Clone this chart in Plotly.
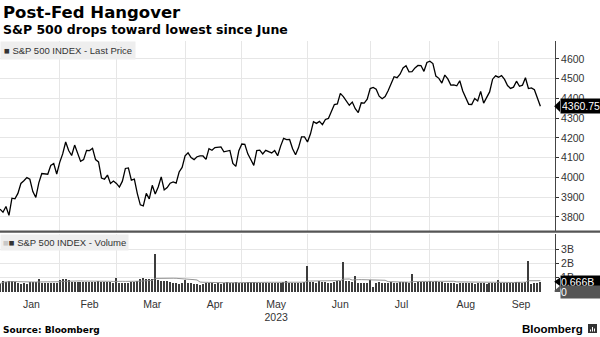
import pandas as pd
import plotly.graph_objects as go

# Trading sessions, Dec 30 2022 through Sep 21 2023 (NYSE holidays removed)
holidays = ["2023-01-02", "2023-01-16", "2023-02-20", "2023-04-07",
            "2023-05-29", "2023-06-19", "2023-07-04", "2023-09-04"]
trade_dates = pd.bdate_range("2022-12-30", "2023-09-21", freq="C", holidays=holidays)

# S&P 500 index, last price per session
close = [
    3839.50,
    # Jan
    3824.14, 3852.97, 3808.10, 3895.08, 3892.09, 3919.25, 3969.61, 3983.17, 3999.09, 3990.97,
    3928.86, 3898.85, 3972.61, 4019.81, 4016.95, 4016.22, 4060.43, 4070.56, 4017.77, 4076.60,
    # Feb
    4119.21, 4179.76, 4136.48, 4111.08, 4164.00, 4117.86, 4081.50, 4090.46, 4137.29, 4136.13,
    4147.60, 4090.41, 4079.09, 3997.34, 3991.05, 4012.32, 3970.04, 3982.24, 3970.15,
    # Mar
    3951.39, 3981.35, 4045.64, 4048.42, 3986.37, 3992.01, 3918.32, 3861.59, 3855.76, 3919.29,
    3891.93, 3960.28, 3916.64, 3951.57, 4002.87, 3936.97, 3948.72, 3970.99, 3977.53, 3971.27,
    4027.81, 4050.83, 4109.31,
    # Apr
    4124.51, 4100.60, 4090.38, 4105.02, 4109.11, 4108.94, 4091.95, 4146.22, 4137.64, 4151.32,
    4154.87, 4154.52, 4129.79, 4133.52, 4137.04, 4071.63, 4055.99, 4135.35, 4169.48,
    # May
    4167.87, 4119.58, 4090.75, 4061.22, 4136.25, 4138.12, 4119.17, 4137.64, 4130.62, 4124.08,
    4136.28, 4109.90, 4158.77, 4198.05, 4191.98, 4192.63, 4145.58, 4115.24, 4151.28, 4205.45,
    4205.52, 4179.83,
    # Jun
    4221.02, 4282.37, 4273.79, 4283.85, 4267.52, 4293.93, 4298.86, 4338.93, 4369.01, 4372.59,
    4425.84, 4409.59, 4388.71, 4365.69, 4381.89, 4348.33, 4328.82, 4378.41, 4376.86, 4396.44,
    4450.38,
    # Jul
    4455.59, 4446.82, 4411.59, 4398.95, 4409.53, 4439.26, 4472.16, 4510.04, 4505.42, 4522.79,
    4554.98, 4565.72, 4534.87, 4536.34, 4554.64, 4567.46, 4566.75, 4537.41, 4582.23, 4588.96,
    # Aug
    4576.73, 4513.39, 4501.89, 4478.03, 4518.44, 4499.38, 4467.71, 4468.83, 4464.05, 4489.72,
    4437.86, 4404.33, 4370.36, 4369.71, 4399.77, 4387.55, 4436.01, 4376.31, 4405.71, 4433.31,
    4497.63, 4514.87, 4507.66,
    # Sep
    4515.77, 4496.83, 4465.48, 4451.14, 4457.49, 4487.46, 4461.90, 4467.44, 4505.10, 4450.32,
    4453.53, 4443.95, 4402.20, 4360.75,
]

# Session volume, billions of shares
volume_bn = [
    0.52,
    # Jan
    0.72, 0.71, 0.73, 0.72, 0.70, 0.58, 0.56, 0.59, 0.57, 0.66,
    0.67, 0.65, 0.86, 0.63, 0.62, 0.64, 0.63, 0.61, 0.64, 0.84,
    # Feb
    0.88, 0.90, 0.82, 0.70, 0.71, 0.69, 0.70, 0.66, 0.68, 0.69,
    0.68, 0.70, 0.72, 0.69, 0.68, 0.67, 0.66, 0.64, 0.98,
    # Mar
    0.64, 0.63, 0.62, 0.60, 0.66, 0.65, 0.78, 0.92, 0.95, 0.90,
    0.93, 0.88, 2.70, 0.80, 0.75, 0.78, 0.72, 0.66, 0.62, 0.58,
    0.52, 0.60, 0.84,
    # Apr
    0.58, 0.60, 0.56, 0.52, 0.50, 0.56, 0.58, 0.60, 0.62, 0.56,
    0.58, 0.57, 0.60, 0.66, 0.62, 0.64, 0.66, 0.60, 0.64,
    # May
    0.62, 0.66, 0.68, 0.66, 0.60, 0.58, 0.62, 0.60, 0.62, 0.58,
    0.60, 0.62, 0.64, 0.66, 0.72, 0.64, 0.62, 0.64, 0.60, 0.62,
    0.66, 1.82,
    # Jun
    0.68, 0.66, 0.64, 0.72, 0.70, 0.66, 0.62, 0.64, 0.68, 0.72,
    0.78, 2.12, 0.76, 0.72, 0.70, 1.12, 0.62, 0.64, 0.60, 0.62,
    0.84,
    # Jul
    0.30, 0.60, 0.66, 0.62, 0.60, 0.64, 0.66, 0.64, 0.62, 0.66,
    0.68, 0.66, 0.64, 1.22, 0.64, 0.66, 0.68, 0.70, 0.66, 0.74,
    # Aug
    0.70, 0.72, 0.68, 0.66, 0.62, 0.60, 0.58, 0.60, 0.56, 0.58,
    0.60, 0.62, 0.60, 0.58, 0.56, 0.58, 0.62, 0.60, 0.56, 0.58,
    0.60, 0.62, 0.80,
    # Sep
    0.58, 0.62, 0.60, 0.64, 0.62, 0.70, 0.66, 0.64, 0.66, 2.15,
    0.56, 0.58, 0.64, 0.666,
]

month_names = ["Jan", "Feb", "Mar", "Apr", "May", "Jun", "Jul", "Aug", "Sep"]
price_ticks = [3800, 3900, 4000, 4100, 4200, 4300, 4400, 4500, 4600]
volume_ticks = [1, 2, 3]
volume_tick_text = ["1B", "2B", "3B"]

assert len(trade_dates) == len(close) == len(volume_bn)

# Sessions are evenly spaced (no gaps for weekends/holidays)
pos = list(range(len(trade_dates)))
s = pd.Series(pos, index=trade_dates)
month_mid, month_edge, month_text = [], [], []
for i, m in enumerate(month_names, start=1):
    sel = s[(s.index.year == 2023) & (s.index.month == i)]
    month_mid.append(sel.mean())
    if i > 1:
        month_edge.append(sel.iloc[0] - 1)
    month_text.append(m + "<br>2023" if m == "May" else m)

volume_avg = pd.Series(volume_bn).rolling(15, min_periods=1).mean().tolist()

INK = "#333333"
GRID = "#e6e6e6"
LABEL_FONT = "Liberation Sans, Arial, sans-serif"
TITLE_FONT = "DejaVu Sans, Verdana, sans-serif"

fig = go.Figure()
fig.add_trace(go.Scatter(
    x=pos, y=close, mode="lines", line=dict(color="#000000", width=1.3),
    customdata=trade_dates.strftime("%Y-%m-%d"), hovertemplate="%{customdata}: %{y:.2f}<extra></extra>",
    xaxis="x", yaxis="y", showlegend=False))
fig.add_trace(go.Bar(
    x=pos, y=volume_bn, width=0.42, marker=dict(color="#3c3c3c", line=dict(width=0)),
    customdata=trade_dates.strftime("%Y-%m-%d"), hovertemplate="%{customdata}: %{y:.2f}B<extra></extra>",
    xaxis="x2", yaxis="y2", showlegend=False))
fig.add_trace(go.Scatter(
    x=pos, y=volume_avg, mode="lines", line=dict(color="#8a8a8a", width=0.9),
    hoverinfo="skip", xaxis="x2", yaxis="y2", showlegend=False))

H_TOP, H_BOT = 41, 292          # plot area, px from top
def py(px):
    return (H_BOT - px) / (H_BOT - H_TOP)

xr = [0, 185.9]
minor = dict(tickvals=month_edge, showgrid=True, gridcolor=GRID, gridwidth=1, ticks="")
fig.update_layout(
    width=600, height=337, margin=dict(l=0, r=45, t=H_TOP, b=337 - H_BOT),
    paper_bgcolor="white", plot_bgcolor="white", bargap=0,
    xaxis=dict(domain=[0, 1], range=xr, showgrid=False, showticklabels=False, ticks="",
               zeroline=False, minor=minor, anchor="y"),
    xaxis2=dict(domain=[0, 1], range=xr, matches="x", anchor="y2", showgrid=False,
                tickvals=month_mid, ticktext=month_text, ticks="outside", ticklen=2,
                tickcolor="rgba(0,0,0,0)", tickfont=dict(family=LABEL_FONT, size=10.5, color=INK),
                zeroline=False, minor=minor),
    yaxis=dict(domain=[py(231), 1], range=[3729, 4691], side="right", anchor="x",
               tickvals=price_ticks, ticks="outside", ticklen=3, tickcolor=INK,
               showline=True, linecolor="#444444", linewidth=1, showgrid=True, gridcolor=GRID,
               zeroline=False, tickfont=dict(family=LABEL_FONT, size=10.5, color=INK)),
    yaxis2=dict(domain=[0, py(233.5)], range=[-0.07, 4.11], side="right", anchor="x2",
                tickvals=volume_ticks, ticktext=volume_tick_text, ticks="outside", ticklen=3,
                tickcolor=INK, showline=True, linecolor="#444444", linewidth=1,
                showgrid=True, gridcolor=GRID, zeroline=False,
                tickfont=dict(family=LABEL_FONT, size=10.5, color=INK)),
)

last_price = close[-1]
last_vol = volume_bn[-1]
shapes = [
    # panel divider
    dict(type="line", xref="paper", yref="paper", x0=0, x1=1.09, y0=py(231.6), y1=py(231.6),
         line=dict(color="#555555", width=2.4), layer="above"),
    # pointer for the last price tag
    dict(type="path", xref="paper", yref="y", fillcolor="#000000", line=dict(width=0),
         path=f"M 0.9985,{last_price} L 1.009,{last_price + 29} L 1.009,{last_price - 29} Z"),
    dict(type="path", xref="paper", yref="y2", fillcolor="#000000", line=dict(width=0),
         path=f"M 0.9985,{last_vol} L 1.009,{last_vol + 0.3} L 1.009,{last_vol - 0.3} Z"),
    dict(type="path", xref="paper", yref="y2", fillcolor="#555555", line=dict(width=0),
         path="M 0.9985,0 L 1.009,0.38 L 1.009,-0.38 Z"),
    # Bloomberg mark
    dict(type="rect", xref="paper", yref="paper", x0=(588) / 555, x1=(597) / 555,
         y0=py(333), y1=py(324), fillcolor="#333333", line=dict(width=0)),
]
for bx, top in [(590.5, 329.5), (592.5, 327), (594.5, 328.5)]:
    shapes.append(dict(type="line", xref="paper", yref="paper", x0=bx / 555, x1=bx / 555,
                       y0=py(331.5), y1=py(top), line=dict(color="white", width=1)))
fig.update_layout(shapes=shapes)

ann = [
    dict(text="<b>Post-Fed Hangover</b>", x=0, y=py(12.5), xshift=1,
         font=dict(family=TITLE_FONT, size=16.5, color="#000000")),
    dict(text="<b>S&P 500 drops toward lowest since June</b>", x=0, y=py(29.5), xshift=1,
         font=dict(family=TITLE_FONT, size=12.5, color="#000000")),
    dict(text="<b>Source: Bloomberg</b>", x=0, y=py(330), xshift=1,
         font=dict(family=TITLE_FONT, size=9, color="#000000")),
    dict(text="■ S&P 500 INDEX - Last Price", x=0, y=py(50.5), bgcolor="#eeeeee", borderpad=3,
         font=dict(family=LABEL_FONT, size=9.5, color=INK)),
    dict(text="<span style='color:#c8c8c8'>■</span>■ S&P 500 INDEX - Volume", x=0, y=py(242.5),
         bgcolor="#eeeeee", borderpad=2, font=dict(family=LABEL_FONT, size=9.5, color=INK)),
]
for a in ann:
    a.update(xref="paper", yref="paper", xanchor="left", yanchor="middle", showarrow=False)
ann += [
    dict(text="<b>Bloomberg</b>", xref="paper", yref="paper", x=585 / 555, y=py(328.5),
         xanchor="right", yanchor="middle", showarrow=False,
         font=dict(family=LABEL_FONT, size=11.5, color="#000000")),
    dict(text=f"{last_price:.2f}", xref="paper", yref="y", x=1.009, y=last_price,
         xanchor="left", yanchor="middle", showarrow=False, bgcolor="#000000", borderpad=1,
         width=40, align="left", font=dict(family=LABEL_FONT, size=10.5, color="white")),
    # volume tag first so the zero tag sits on top of it
    dict(text=f"{last_vol:.3f}B", xref="paper", yref="y2", x=1.009, y=last_vol,
         xanchor="left", yanchor="middle", showarrow=False, bgcolor="#000000", borderpad=0,
         width=40, align="left", font=dict(family=LABEL_FONT, size=10.5, color="white")),
    dict(text="0", xref="paper", yref="y2", x=1.009, y=0, yshift=-1, xanchor="left",
         yanchor="middle", showarrow=False, bgcolor="#555555", borderpad=0, width=40,
         align="left", font=dict(family=LABEL_FONT, size=10.5, color="white")),
]
fig.update_layout(annotations=ann)

fig.write_html("out.html")
